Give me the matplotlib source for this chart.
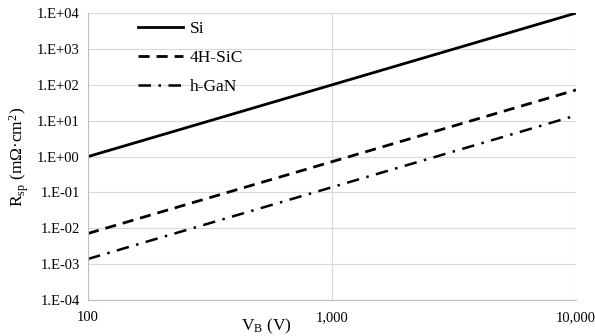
import matplotlib.pyplot as plt
from matplotlib.ticker import FixedLocator, NullLocator

plt.rcParams["font.family"] = ["Liberation Serif", "DejaVu Serif"]
plt.rcParams["mathtext.fontset"] = "custom"
plt.rcParams["mathtext.rm"] = "Liberation Serif"
plt.rcParams["mathtext.it"] = "Liberation Serif:italic"

# breakdown voltage (V) and specific on-resistance (mOhm*cm^2)
vb = [100, 1000, 10000]
rsp_si = [1.0, 100.0, 10000.0]
rsp_sic = [7.2e-3, 0.72, 72.0]
rsp_gan = [1.4e-3, 0.14, 14.0]

xticks = [100, 1000, 10000]
xtick_labels = ["100", "1,000", "10,000"]
yticks = [1e-4, 1e-3, 1e-2, 1e-1, 1e0, 1e1, 1e2, 1e3, 1e4]
ytick_labels = ["1.E-04", "1.E-03", "1.E-02", "1.E-01", "1.E+00",
                "1.E+01", "1.E+02", "1.E+03", "1.E+04"]

fig = plt.figure(figsize=(5.95, 3.36), dpi=100)
ax = fig.add_axes([0.148, 0.107, 0.82, 0.854])

ax.plot(vb, rsp_si, color="black", lw=2.0, linestyle="-", label="Si")
ax.plot(vb, rsp_sic, color="black", lw=2.0, linestyle=(0, (4, 2.5)), label="4H-SiC")
ax.plot(vb, rsp_gan, color="black", lw=1.8, linestyle=(0, (5, 3, 1, 3)), label="h-GaN")

ax.set_xscale("log")
ax.set_yscale("log")
ax.set_xlim(100, 10000)
ax.set_ylim(1e-4, 1e4)

ax.xaxis.set_major_locator(FixedLocator(xticks))
ax.xaxis.set_minor_locator(NullLocator())
ax.set_xticklabels(xtick_labels)
ax.yaxis.set_major_locator(FixedLocator(yticks))
ax.yaxis.set_minor_locator(NullLocator())
ax.set_yticklabels(ytick_labels)
ax.tick_params(axis="y", length=0, labelsize=10.5, pad=6)
ax.tick_params(axis="x", length=0, labelsize=10.5, pad=8)

ax.grid(True, color="#d9d9d9", lw=0.8)
for side in ["top", "right"]:
    ax.spines[side].set_visible(False)
for side in ["left", "bottom"]:
    ax.spines[side].set_color("#bfbfbf")
    ax.spines[side].set_linewidth(0.8)

ax.set_xlabel(r"V$_{\rm B}$ (V)", fontsize=12.5)
ax.xaxis.set_label_coords(0.365, -0.058)
ax.set_ylabel(r"R$_{\rm sp}$ (mΩ·cm$^2$)", fontsize=12.5, labelpad=4)

ax.legend(loc="upper left", bbox_to_anchor=(0.07, 1.027), frameon=False,
          fontsize=12.5, handlelength=2.6, labelspacing=0.75, handletextpad=0.4)

fig.savefig("out.png", dpi=100)
